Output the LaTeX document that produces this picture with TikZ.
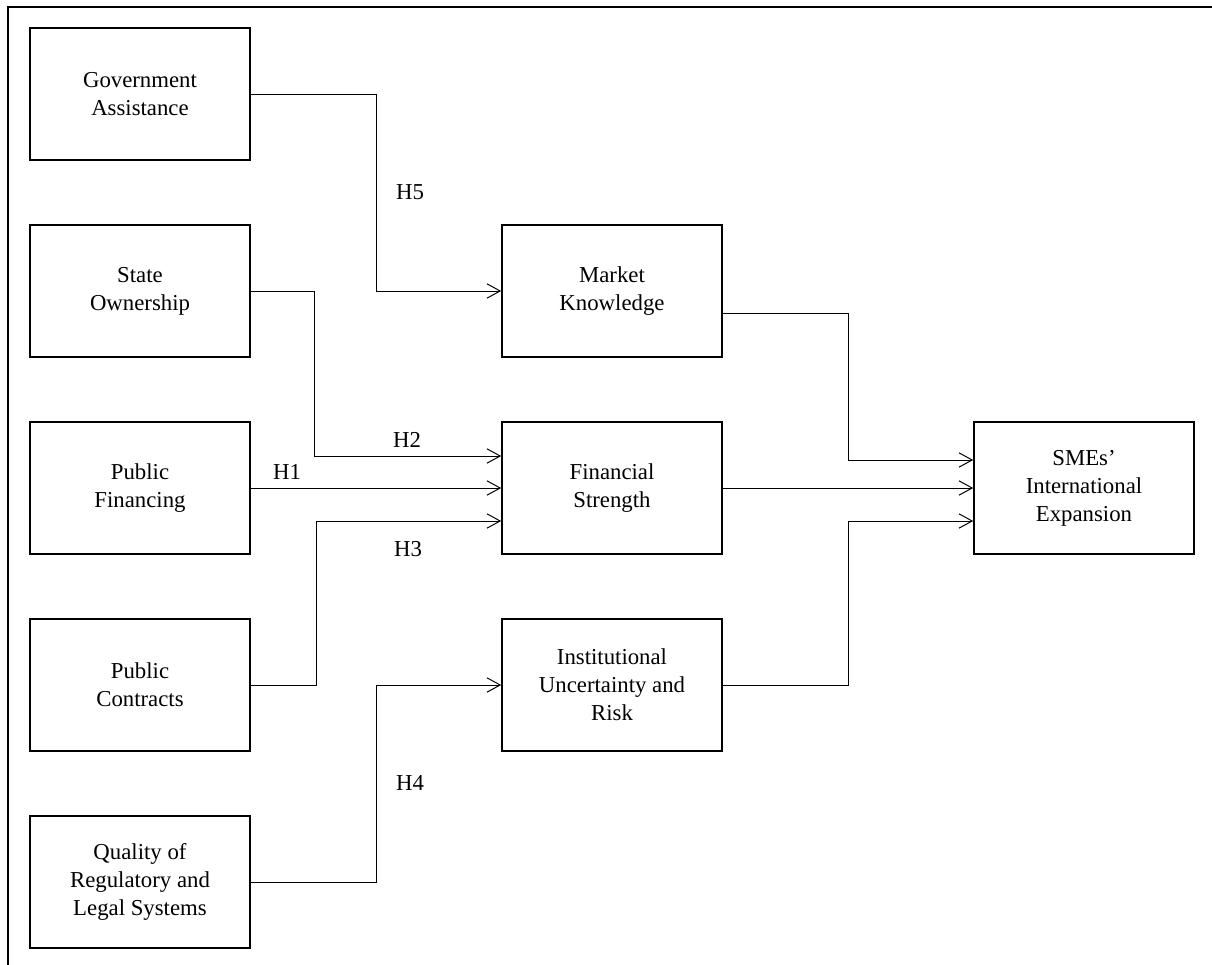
\documentclass[tikz,border=0pt]{standalone}
\usepackage{fontspec}
\setmainfont{Liberation Serif}
\usetikzlibrary{arrows.meta,calc,positioning}

\begin{document}
\begin{tikzpicture}[x=0.025cm,y=-0.025cm,>={Straight Barb[length=3.3mm,width=3.6mm]},
    box/.style={draw,line width=1.1pt,minimum width=5.5cm,minimum height=3.3cm,align=center,font=\fontsize{16.2}{20}\selectfont},
    link/.style={->,line width=0.7pt},
    hyp/.style={font=\fontsize{16.2}{20}\selectfont}]
  \useasboundingbox (0,0) rectangle (1212,965);
  % frame (top and left edges only)
  \draw[line width=1.1pt] (8,965) -- (8,7) -- (1212,7);
  % left column
  \node[box] (gov) at (140,94) {Government\\Assistance};
  \node[box] (state) at (140,291) {State\\Ownership};
  \node[box] (finance) at (140,488) {Public\\Financing};
  \node[box] (contracts) at (140,685) {Public\\Contracts};
  \node[box] (quality) at (140,882) {Quality of\\Regulatory and\\Legal Systems};
  % middle column
  \node[box] (market) at (612,291) {Market\\Knowledge};
  \node[box] (strength) at (612,488) {Financial\\Strength};
  \node[box] (risk) at (612,685) {Institutional\\Uncertainty and\\Risk};
  % outcome
  \node[box] (expansion) at (1084,488) {SMEs'\\International\\Expansion};
  % hypotheses
  \draw[link] (gov.east) -- ++(126,0) |- (market.west);
  \draw[link] (state.east) -- ++(64,0) |- ($(strength.west)+(0,-32)$);
  \draw[link] (finance.east) -- (strength.west);
  \draw[link] (contracts.east) -- ++(66,0) |- ($(strength.west)+(0,33)$);
  \draw[link] (quality.east) -- ++(126,0) |- (risk.west);
  \draw[link] ($(market.east)+(0,22)$) -- ++(126,0) |- ($(expansion.west)+(0,-28)$);
  \draw[link] (strength.east) -- (expansion.west);
  \draw[link] (risk.east) -- ++(126,0) |- ($(expansion.west)+(0,33)$);
  \node[hyp] (h5) at (410,192) {H5};
  \node[hyp] (h2) at (407,440) {H2};
  \node[hyp] (h1) at (287,472) {H1};
  \node[hyp] (h3) at (408,549) {H3};
  \node[hyp] (h4) at (410,783) {H4};
\end{tikzpicture}
\end{document}
